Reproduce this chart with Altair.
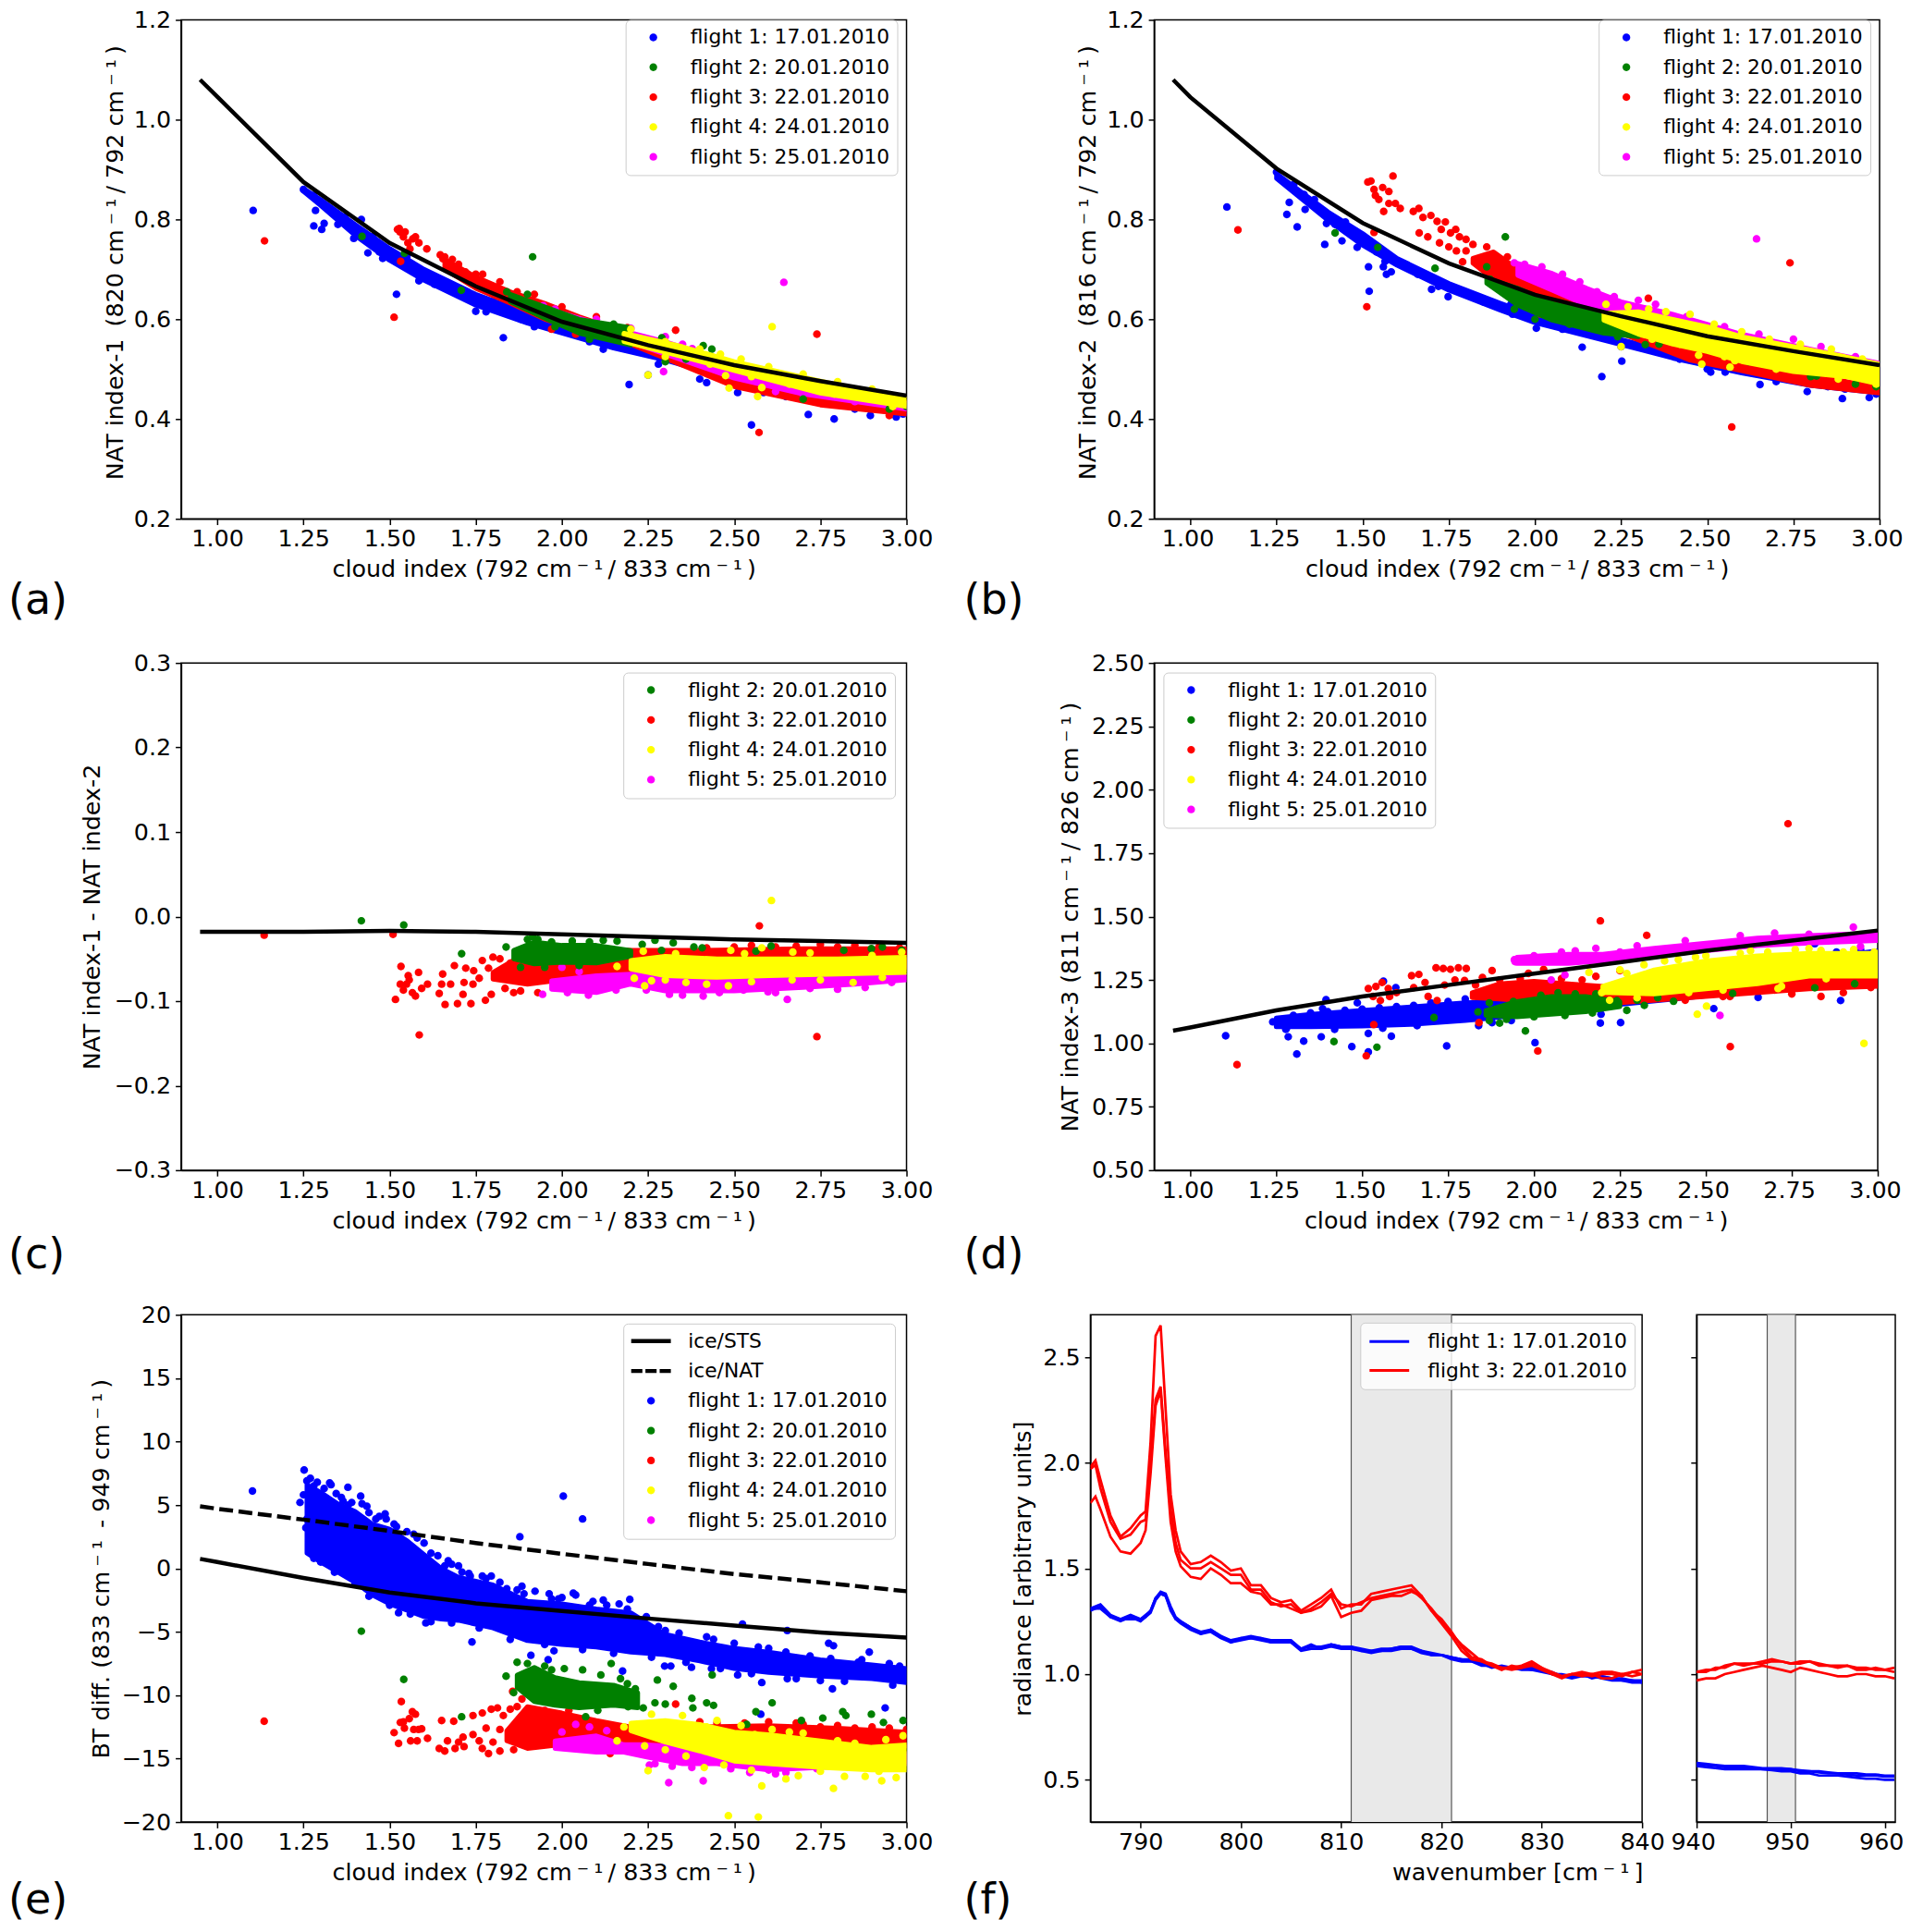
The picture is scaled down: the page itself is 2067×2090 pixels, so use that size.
import altair as alt
import pandas as pd

F = {1: "flight 1: 17.01.2010", 2: "flight 2: 20.01.2010", 3: "flight 3: 22.01.2010",
     4: "flight 4: 24.01.2010", 5: "flight 5: 25.01.2010"}
COL = {1: "#0000ff", 2: "#008000", 3: "#ff0000", 4: "#ffff00", 5: "#ff00ff"}
ORDER = [1, 3, 5, 2, 4]
XT = [1.0, 1.25, 1.5, 1.75, 2.0, 2.25, 2.5, 2.75, 3.0]
TS = "\u2009"
cm = f"cm{TS}\u207b{TS}\u00b9{TS}"
CLOUD_TITLE = f"cloud index (792 {cm}/ 833 {cm})"

# model curves
LX = [0.95, 1.0, 1.25, 1.5, 1.75, 2.0, 2.25, 2.5, 2.75, 3.0]
LA = [1.08, 1.046, 0.875, 0.753, 0.666, 0.595, 0.548, 0.508, 0.476, 0.447]
LB = [1.08, 1.045, 0.902, 0.793, 0.712, 0.649, 0.606, 0.566, 0.536, 0.508]
LC = [-0.018, -0.018, -0.018, -0.017, -0.018, -0.021, -0.024, -0.027, -0.029, -0.031]
LD = [1.05, 1.063, 1.13, 1.185, 1.23, 1.275, 1.32, 1.365, 1.405, 1.445]
LE = [0.75, 0.5, -0.75, -1.9, -2.75, -3.35, -3.95, -4.5, -5.05, -5.45]
LEN = [4.9, 4.7, 3.85, 2.95, 2.0, 1.15, 0.35, -0.45, -1.1, -1.8]

# --- panel a: dense cores (x, low, high) and individual points (x, y)
A1BX = [1.25, 1.3, 1.4, 1.5, 1.6, 1.75, 1.9, 2.0, 2.15, 2.3, 2.5, 2.75, 3.0]
A1BH = [0.862, 0.84, 0.79, 0.742, 0.70, 0.65, 0.612, 0.592, 0.558, 0.532, 0.495, 0.445, 0.422]
A1BL = [0.856, 0.828, 0.768, 0.718, 0.678, 0.628, 0.592, 0.572, 0.542, 0.518, 0.478, 0.437, 0.41]
A1X = [1.104, 1.28, 1.303, 1.31, 1.285, 1.418, 1.396, 1.437, 1.48, 1.585, 1.52, 1.75, 1.83, 2.195, 2.25, 2.42, 2.51, 2.585, 2.55, 2.715, 2.79, 2.895, 2.97, 1.25, 1.28, 1.33, 1.37, 1.45, 1.55, 1.65, 1.72, 1.8, 1.88, 1.97, 2.08, 2.2, 2.35, 2.45, 2.6, 2.68, 2.83, 2.93, 1.35, 1.47, 1.63, 1.78, 1.92, 2.12, 2.28, 2.4, 2.56, 2.65, 2.85, 2.99]
A1Y = [0.818, 0.787, 0.78, 0.792, 0.818, 0.80, 0.762, 0.733, 0.722, 0.677, 0.65, 0.616, 0.563, 0.469, 0.488, 0.473, 0.453, 0.453, 0.388, 0.409, 0.40, 0.407, 0.404, 0.86, 0.848, 0.82, 0.805, 0.765, 0.725, 0.675, 0.655, 0.635, 0.60, 0.585, 0.555, 0.545, 0.52, 0.49, 0.475, 0.455, 0.435, 0.42, 0.79, 0.735, 0.67, 0.615, 0.585, 0.54, 0.51, 0.48, 0.46, 0.445, 0.42, 0.41]
A2BX = [1.85, 1.95, 2.05, 2.2]
A2BH = [0.65, 0.625, 0.60, 0.583]
A2BL = [0.635, 0.602, 0.572, 0.548]
A2X = [1.42, 1.543, 1.708, 1.915, 2.29, 2.41, 2.435, 1.84, 1.9, 1.98, 2.08, 2.15, 2.3, 2.36, 2.7, 2.95, 3.0]
A2Y = [0.766, 0.732, 0.658, 0.725, 0.563, 0.547, 0.54, 0.655, 0.65, 0.585, 0.56, 0.59, 0.515, 0.52, 0.44, 0.42, 0.425]
A3BX = [1.66, 1.75, 1.85, 1.95, 2.05, 2.2, 2.5, 2.75, 3.0]
A3BH = [0.72, 0.685, 0.655, 0.632, 0.605, 0.57, 0.48, 0.44, 0.422]
A3BL = [0.70, 0.662, 0.632, 0.60, 0.578, 0.55, 0.465, 0.428, 0.41]
A3X = [1.137, 1.513, 1.532, 2.33, 2.74, 2.572, 2.95, 2.19, 1.523, 1.528, 1.54, 1.553, 1.567, 1.585, 1.559, 1.608, 1.647, 1.655, 1.682, 1.72, 1.77, 1.82, 1.87, 1.92, 2.0, 2.1, 1.53, 1.545, 1.575, 1.66, 1.7, 1.75, 1.8, 1.9, 1.97, 2.04, 2.78, 2.88]
A3Y = [0.757, 0.604, 0.716, 0.578, 0.57, 0.373, 0.407, 0.583, 0.78, 0.782, 0.765, 0.753, 0.761, 0.753, 0.741, 0.741, 0.729, 0.721, 0.72, 0.695, 0.69, 0.675, 0.655, 0.65, 0.625, 0.605, 0.775, 0.775, 0.765, 0.725, 0.71, 0.69, 0.665, 0.63, 0.58, 0.57, 0.44, 0.425]
A4BX = [2.18, 2.35, 2.5, 2.75, 3.0]
A4BH = [0.572, 0.545, 0.515, 0.476, 0.44]
A4BL = [0.555, 0.525, 0.497, 0.452, 0.425]
A4X = [2.25, 2.475, 2.485, 2.58, 2.568, 2.61, 2.2, 2.3, 2.4, 2.46, 2.52, 2.6, 2.7, 2.8, 2.9, 2.3, 2.43, 2.55, 2.66, 2.79, 2.96]
A4Y = [0.488, 0.487, 0.462, 0.463, 0.445, 0.585, 0.58, 0.555, 0.54, 0.53, 0.52, 0.505, 0.49, 0.475, 0.46, 0.525, 0.51, 0.485, 0.47, 0.45, 0.425]
A5BX = [1.95, 2.05, 2.15, 2.3, 2.5, 2.7, 3.0]
A5BH = [0.622, 0.602, 0.582, 0.555, 0.51, 0.47, 0.432]
A5BL = [0.605, 0.585, 0.565, 0.53, 0.482, 0.45, 0.42]
A5X = [2.644, 2.295, 1.946, 2.378, 2.2, 2.3, 2.35, 1.98, 2.1, 2.62, 2.7, 2.85]
A5Y = [0.674, 0.495, 0.627, 0.541, 0.582, 0.565, 0.55, 0.62, 0.60, 0.455, 0.45, 0.435]

# --- panel b
B1BX = [1.25, 1.4, 1.5, 1.6, 1.75, 1.9, 2.0, 2.2, 2.4, 2.6, 2.8, 3.0]
B1BH = [0.892, 0.815, 0.772, 0.722, 0.672, 0.632, 0.607, 0.568, 0.533, 0.503, 0.483, 0.463]
B1BL = [0.882, 0.798, 0.748, 0.708, 0.658, 0.618, 0.593, 0.558, 0.522, 0.492, 0.467, 0.452]
B1X = [1.106, 1.28, 1.287, 1.31, 1.333, 1.39, 1.44, 1.484, 1.395, 1.517, 1.519, 1.565, 1.569, 1.583, 1.72, 1.748, 1.935, 2.004, 2.137, 2.194, 2.252, 2.42, 2.51, 2.552, 2.653, 2.79, 2.892, 2.97, 1.25, 1.3, 1.36, 1.45, 1.54, 1.66, 1.8, 1.93, 2.08, 2.3, 2.5, 2.7, 2.9, 2.99, 1.33, 1.42, 1.56, 1.7, 1.85, 2.02, 2.25, 2.45, 2.65, 2.85]
B1Y = [0.825, 0.81, 0.834, 0.785, 0.82, 0.75, 0.757, 0.744, 0.792, 0.705, 0.656, 0.716, 0.69, 0.695, 0.666, 0.645, 0.61, 0.582, 0.544, 0.485, 0.516, 0.52, 0.494, 0.494, 0.469, 0.455, 0.441, 0.443, 0.895, 0.87, 0.84, 0.795, 0.735, 0.69, 0.65, 0.63, 0.58, 0.56, 0.50, 0.475, 0.46, 0.45, 0.85, 0.79, 0.705, 0.66, 0.635, 0.595, 0.545, 0.53, 0.49, 0.465]
B2BX = [1.86, 1.95, 2.05, 2.2, 2.3]
B2BH = [0.682, 0.662, 0.632, 0.608, 0.585]
B2BL = [0.672, 0.628, 0.598, 0.572, 0.565]
B2X = [1.42, 1.544, 1.71, 1.914, 2.32, 2.817, 2.93, 1.86, 1.87, 1.94, 2.0, 2.1, 2.18, 2.24, 2.36, 2.5, 2.62, 2.72, 2.8, 2.99]
B2Y = [0.773, 0.744, 0.702, 0.765, 0.549, 0.486, 0.47, 0.705, 0.68, 0.62, 0.60, 0.59, 0.61, 0.565, 0.55, 0.54, 0.515, 0.505, 0.485, 0.465]
B3BX = [1.82, 1.88, 1.95, 2.05, 2.2, 2.35, 2.45, 2.6, 2.8, 3.0]
B3BH = [0.722, 0.735, 0.70, 0.668, 0.60, 0.565, 0.543, 0.513, 0.488, 0.463]
B3BL = [0.712, 0.68, 0.652, 0.622, 0.585, 0.545, 0.518, 0.497, 0.467, 0.452]
B3X = [1.138, 1.512, 1.533, 1.515, 1.524, 1.588, 1.558, 1.576, 1.533, 1.537, 1.547, 1.561, 1.576, 1.595, 1.609, 1.647, 1.663, 1.675, 1.698, 1.664, 1.689, 1.716, 1.723, 1.75, 1.728, 1.755, 1.781, 1.772, 1.8, 2.329, 2.74, 2.571, 2.017, 1.74, 1.77, 1.8, 1.82, 1.79, 1.86, 1.92, 1.99, 2.06]
B3Y = [0.779, 0.625, 0.774, 0.875, 0.877, 0.887, 0.864, 0.856, 0.86, 0.848, 0.84, 0.816, 0.832, 0.832, 0.822, 0.816, 0.822, 0.804, 0.808, 0.773, 0.765, 0.796, 0.753, 0.745, 0.78, 0.773, 0.765, 0.737, 0.737, 0.642, 0.713, 0.384, 0.61, 0.795, 0.78, 0.76, 0.75, 0.715, 0.745, 0.725, 0.69, 0.675]
B4BX = [2.2, 2.3, 2.4, 2.5, 2.6, 2.75, 2.9, 3.0]
B4BH = [0.612, 0.615, 0.60, 0.585, 0.565, 0.545, 0.525, 0.51]
B4BL = [0.598, 0.57, 0.55, 0.535, 0.515, 0.495, 0.485, 0.47]
B4X = [2.25, 2.484, 2.475, 2.566, 2.58, 2.206, 2.27, 2.33, 2.38, 2.45, 2.52, 2.6, 2.68, 2.77, 2.86, 2.95, 2.34, 2.42, 2.55, 2.7, 2.88, 2.99]
B4Y = [0.545, 0.51, 0.528, 0.504, 0.517, 0.63, 0.625, 0.62, 0.615, 0.61, 0.59, 0.575, 0.56, 0.55, 0.54, 0.52, 0.56, 0.55, 0.525, 0.50, 0.48, 0.47]
B5BX = [1.95, 2.05, 2.15, 2.25, 2.4, 2.6, 2.8, 3.0]
B5BH = [0.712, 0.692, 0.662, 0.635, 0.61, 0.57, 0.54, 0.512]
B5BL = [0.688, 0.658, 0.628, 0.60, 0.57, 0.535, 0.505, 0.475]
B5X = [2.643, 1.94, 1.97, 2.02, 2.08, 2.13, 2.18, 2.23, 2.3, 2.35, 2.44, 2.55, 2.65, 2.75, 2.83, 2.93]
B5Y = [0.761, 0.713, 0.71, 0.705, 0.69, 0.675, 0.655, 0.645, 0.638, 0.63, 0.605, 0.585, 0.57, 0.56, 0.545, 0.525]

# --- panel c
C2BX = [1.86, 1.92, 2.0, 2.1, 2.2]
C2BH = [-0.04, -0.03, -0.034, -0.034, -0.04]
C2BL = [-0.05, -0.056, -0.054, -0.055, -0.047]
C2X = [1.418, 1.541, 1.709, 1.838, 2.27, 2.323, 2.383, 2.407, 2.233, 2.289, 2.607, 2.563, 2.818, 2.898, 2.93, 2.986, 1.9, 1.915, 1.93, 1.97, 2.03, 2.08, 2.12, 2.16, 1.88, 1.95, 2.05]
C2Y = [-0.005, -0.01, -0.044, -0.036, -0.028, -0.031, -0.036, -0.037, -0.033, -0.04, -0.035, -0.041, -0.04, -0.038, -0.036, -0.04, -0.027, -0.024, -0.027, -0.03, -0.029, -0.03, -0.028, -0.029, -0.06, -0.06, -0.058]
C3BX = [1.8, 1.9, 2.0, 2.2, 2.4, 2.7, 3.0]
C3BH = [-0.066, -0.042, -0.036, -0.04, -0.04, -0.038, -0.038]
C3BL = [-0.074, -0.08, -0.075, -0.065, -0.065, -0.06, -0.06]
C3X = [1.136, 1.51, 1.533, 1.586, 2.74, 2.573, 1.517, 1.54, 1.557, 1.566, 1.575, 1.584, 1.593, 1.61, 1.531, 1.549, 1.554, 1.644, 1.654, 1.651, 1.661, 1.677, 1.688, 1.697, 1.713, 1.721, 1.736, 1.744, 1.716, 1.742, 1.769, 1.778, 1.8, 1.795, 1.76, 1.787, 1.835, 1.86, 1.88, 1.93, 2.42, 2.5, 2.55, 2.62, 2.68, 2.75, 2.8, 2.85, 2.92, 2.98, 1.82, 1.85, 1.9, 1.98, 2.06, 2.12]
C3Y = [-0.022, -0.021, -0.059, -0.14, -0.142, -0.011, -0.098, -0.087, -0.075, -0.09, -0.094, -0.066, -0.085, -0.08, -0.08, -0.08, -0.07, -0.091, -0.068, -0.08, -0.104, -0.08, -0.058, -0.103, -0.092, -0.061, -0.103, -0.064, -0.078, -0.08, -0.052, -0.099, -0.048, -0.092, -0.073, -0.061, -0.085, -0.09, -0.088, -0.09, -0.037, -0.036, -0.034, -0.036, -0.035, -0.033, -0.036, -0.034, -0.036, -0.037, -0.05, -0.055, -0.052, -0.08, -0.078, -0.072]
C4BX = [2.2, 2.3, 2.45, 2.6, 2.8, 3.0]
C4BH = [-0.052, -0.047, -0.05, -0.05, -0.05, -0.048]
C4BL = [-0.062, -0.07, -0.072, -0.07, -0.068, -0.066]
C4X = [2.608, 2.16, 2.24, 2.21, 2.26, 2.845, 2.42, 2.483, 2.668, 2.236, 2.49, 2.58, 2.67, 2.986, 2.3, 2.36, 2.55, 2.75, 2.93, 2.33, 2.53, 2.72, 2.9]
C4Y = [0.019, -0.059, -0.082, -0.073, -0.076, -0.078, -0.08, -0.082, -0.075, -0.041, -0.04, -0.037, -0.042, -0.042, -0.075, -0.078, -0.077, -0.075, -0.072, -0.044, -0.044, -0.043, -0.046]
C5BX = [1.97, 2.1, 2.2, 2.3, 2.5, 2.7, 2.85, 3.0]
C5BH = [-0.076, -0.07, -0.068, -0.066, -0.07, -0.07, -0.07, -0.07]
C5BL = [-0.086, -0.09, -0.08, -0.088, -0.088, -0.084, -0.08, -0.075]
C5X = [1.944, 2.312, 2.41, 2.457, 2.654, 2.8, 2.88, 2.957, 2.016, 2.077, 2.157, 2.245, 2.527, 2.598, 2.72, 2.0, 2.05, 2.35, 2.62]
C5Y = [-0.092, -0.092, -0.094, -0.09, -0.098, -0.086, -0.084, -0.078, -0.09, -0.093, -0.087, -0.087, -0.087, -0.089, -0.085, -0.06, -0.065, -0.093, -0.09]

# --- panel d
D1BX = [1.25, 1.35, 1.5, 1.65, 1.8, 1.88, 2.0, 2.3, 2.6, 2.8, 3.0]
D1BH = [1.10, 1.115, 1.13, 1.145, 1.16, 1.165, 1.17, 1.20, 1.26, 1.33, 1.365]
D1BL = [1.065, 1.065, 1.068, 1.075, 1.09, 1.10, 1.12, 1.16, 1.20, 1.25, 1.27]
D1X = [1.103, 1.285, 1.278, 1.33, 1.31, 1.381, 1.47, 1.518, 1.518, 1.585, 1.746, 1.562, 1.598, 1.486, 1.395, 1.385, 1.839, 1.878, 1.934, 2.003, 2.193, 2.195, 2.252, 2.523, 2.652, 2.892, 2.817, 1.24, 1.3, 1.4, 1.45, 1.55, 1.6, 1.7, 1.75, 1.28, 1.42, 1.56, 1.66, 2.95, 2.88, 1.35, 1.5, 1.65, 1.8, 1.85]
D1Y = [1.03, 1.026, 1.055, 1.009, 0.958, 1.026, 0.987, 1.039, 0.966, 1.028, 0.99, 1.245, 1.22, 1.16, 1.172, 1.137, 1.07, 1.082, 1.09, 1.003, 1.08, 1.115, 1.082, 1.137, 1.181, 1.169, 1.393, 1.085, 1.11, 1.125, 1.13, 1.14, 1.145, 1.16, 1.165, 1.06, 1.055, 1.06, 1.07, 1.37, 1.36, 1.12, 1.135, 1.15, 1.175, 1.18]
D2BX = [1.86, 1.95, 2.05, 2.15, 2.25]
D2BH = [1.13, 1.165, 1.185, 1.185, 1.165]
D2BL = [1.11, 1.105, 1.115, 1.125, 1.145]
D2X = [1.418, 1.543, 1.709, 1.837, 1.975, 2.321, 2.406, 2.817, 2.933, 2.241, 2.578, 1.87, 1.9, 1.94, 2.02, 2.07, 2.12, 2.18, 2.3, 2.36, 1.87, 1.92, 2.0, 2.09, 2.17, 2.27]
D2Y = [1.007, 0.985, 1.102, 1.124, 1.049, 1.15, 1.166, 1.219, 1.235, 1.169, 1.197, 1.16, 1.08, 1.165, 1.19, 1.2, 1.195, 1.195, 1.17, 1.18, 1.09, 1.095, 1.105, 1.11, 1.12, 1.13]
D3BX = [1.82, 1.9, 2.0, 2.1, 2.2, 2.4, 2.6, 2.8, 3.0]
D3BH = [1.20, 1.235, 1.245, 1.235, 1.225, 1.245, 1.255, 1.265, 1.275]
D3BL = [1.18, 1.175, 1.165, 1.165, 1.155, 1.175, 1.195, 1.215, 1.225]
D3X = [1.136, 1.512, 1.534, 2.011, 2.193, 2.328, 2.571, 2.739, 1.518, 1.54, 1.558, 1.576, 1.532, 1.553, 1.58, 1.644, 1.665, 1.683, 1.692, 1.715, 1.736, 1.757, 1.78, 1.803, 1.718, 1.798, 1.878, 1.984, 2.028, 2.18, 2.25, 2.445, 1.84, 2.835, 2.57, 1.6, 1.65, 1.74, 1.77, 1.85, 2.7, 2.9, 2.98, 2.44, 2.55, 2.75, 1.83, 1.9, 1.96, 2.08, 2.14]
D3Y = [0.916, 0.951, 1.074, 0.97, 1.483, 1.426, 0.987, 1.866, 1.216, 1.224, 1.24, 1.216, 1.185, 1.169, 1.185, 1.267, 1.272, 1.24, 1.185, 1.298, 1.295, 1.292, 1.298, 1.295, 1.169, 1.248, 1.287, 1.276, 1.292, 1.264, 1.287, 1.28, 1.082, 1.185, 1.185, 1.2, 1.22, 1.23, 1.25, 1.26, 1.21, 1.2, 1.22, 1.17, 1.185, 1.195, 1.23, 1.25, 1.255, 1.255, 1.25]
D4BX = [2.2, 2.35, 2.5, 2.65, 2.8, 3.0]
D4BH = [1.225, 1.29, 1.325, 1.345, 1.355, 1.355]
D4BL = [1.20, 1.195, 1.215, 1.235, 1.265, 1.265]
D4X = [2.475, 2.502, 2.96, 2.197, 2.71, 2.16, 2.8, 2.835, 2.25, 2.32, 2.42, 2.5, 2.6, 2.68, 2.9, 2.99, 2.3, 2.45, 2.55, 2.72, 2.85, 2.22, 2.27, 2.38, 2.47, 2.63, 2.76, 2.93]
D4Y = [1.115, 1.147, 1.0, 1.2, 1.216, 1.28, 1.374, 1.366, 1.29, 1.31, 1.33, 1.345, 1.355, 1.36, 1.36, 1.36, 1.18, 1.2, 1.21, 1.225, 1.255, 1.17, 1.275, 1.325, 1.34, 1.365, 1.37, 1.37]
D5BX = [1.95, 2.1, 2.2, 2.35, 2.5, 2.65, 2.8, 3.0]
D5BH = [1.34, 1.352, 1.352, 1.375, 1.395, 1.415, 1.425, 1.435]
D5BL = [1.315, 1.315, 1.325, 1.345, 1.365, 1.385, 1.395, 1.405]
D5X = [2.541, 1.943, 1.945, 2.929, 2.973, 2.95, 2.0, 2.08, 2.12, 2.18, 2.3, 2.44, 2.6, 2.7, 2.8, 2.86, 2.05, 2.09, 2.25]
D5Y = [1.11, 1.33, 1.322, 1.458, 1.422, 1.382, 1.345, 1.36, 1.365, 1.375, 1.385, 1.405, 1.425, 1.435, 1.43, 1.42, 1.25, 1.27, 1.36]

# --- panel e
E1BX = [1.26, 1.3, 1.35, 1.4, 1.45, 1.5, 1.55, 1.6, 1.65, 1.7, 1.8, 1.9, 2.0, 2.1, 2.2, 2.3, 2.4, 2.5, 2.6, 2.75, 2.9, 3.0]
E1BH = [6.6, 6.0, 5.1, 4.5, 3.5, 3.1, 2.2, 1.1, 0.0, -0.7, -1.3, -2.6, -2.8, -3.2, -3.5, -5.2, -5.8, -6.3, -6.6, -7.2, -7.6, -7.9]
E1BL = [1.2, 0.5, -0.3, -1.1, -2.1, -2.8, -3.3, -3.8, -4.0, -4.1, -4.7, -5.7, -6.0, -6.2, -6.6, -6.8, -7.3, -7.9, -8.2, -8.5, -8.7, -9.0]
E1X = [1.102, 2.004, 2.06, 1.878, 1.379, 1.326, 1.252, 1.24, 1.257, 1.28, 1.526, 1.605, 1.739, 1.91, 1.96, 1.977, 2.176, 2.197, 2.245, 2.298, 2.316, 2.376, 2.434, 2.524, 2.51, 2.58, 2.577, 2.654, 2.654, 2.75, 2.785, 2.774, 2.788, 2.892, 2.938, 1.68, 1.734, 1.769, 1.795, 1.884, 1.922, 1.963, 2.033, 2.12, 2.166, 1.487, 1.513, 1.416, 1.434, 1.27, 1.29, 1.31, 1.345, 1.365, 1.39, 1.46, 1.55, 1.58, 1.62, 1.66, 1.71, 1.27, 1.3, 1.34, 1.4, 1.44, 1.5, 1.56, 1.62, 1.68, 1.76, 1.85, 1.95, 2.06, 2.15, 2.26, 2.36, 2.46, 2.55, 2.68, 2.82, 2.96, 2.3, 2.44, 2.6, 2.72, 2.86, 2.98, 2.08, 1.99, 1.84, 1.26, 1.28, 1.25, 1.27, 1.26, 1.33, 1.36, 1.38, 1.42, 1.44, 1.47, 1.49, 1.52, 1.57, 1.6, 1.64, 1.67, 1.7, 1.73, 1.78, 1.82, 1.87, 1.89, 1.97, 2.0, 2.04, 2.09, 2.13, 2.19, 2.24, 2.28, 2.34, 2.42, 2.5, 2.57, 2.65, 2.78, 2.87, 2.95]
E1Y = [6.1, 5.7, 3.9, 2.5, 6.4, 6.75, 7.76, 5.2, 3.2, 0.8, -3.5, -4.3, -5.8, -6.85, -7.2, -6.5, -8.1, -2.45, -3.8, -7.7, -7.7, -7.8, -7.9, -4.4, -8.4, -9.0, -11.5, -4.9, -8.7, -8.85, -9.5, -5.9, -6.1, -6.6, -11.0, 0.33, -0.6, -0.6, -0.6, -1.4, -1.8, -2.0, -1.95, -2.5, -2.8, 4.3, 3.5, 5.7, 4.9, 7.1, 6.8, 6.3, 5.9, 5.3, 5.2, 3.9, 2.9, 2.4, 1.2, 0.2, -0.3, 2.0, 0.5, -0.3, -1.2, -2.2, -2.9, -3.6, -4.2, -4.3, -4.7, -5.6, -6.0, -6.4, -6.7, -7.0, -7.4, -7.9, -8.3, -8.7, -8.9, -9.2, -4.9, -5.6, -6.3, -6.9, -7.4, -7.7, -2.9, -2.4, -1.6, 6.9, 6.5, 5.8, 4.6, 3.9, 6.6, 5.6, 5.0, 5.1, 4.4, 4.1, 3.9, 3.3, 2.7, 2.0, 1.0, 0.6, 0.2, -0.4, -0.8, -1.1, -1.7, -2.0, -2.4, -2.3, -2.1, -2.6, -2.9, -3.2, -4.4, -4.6, -5.1, -5.4, -5.9, -6.2, -6.6, -7.1, -7.2, -7.5]
E2BX = [1.87, 1.92, 1.98, 2.05, 2.15, 2.22]
E2BH = [-8.4, -7.8, -8.6, -9.0, -9.2, -9.8]
E2BL = [-9.4, -10.5, -10.8, -11.0, -10.8, -11.0]
E2X = [1.418, 1.541, 1.709, 1.838, 2.143, 2.436, 2.323, 2.277, 2.377, 2.42, 2.44, 2.38, 2.61, 2.563, 2.695, 2.757, 2.815, 2.824, 2.898, 2.933, 2.99, 2.536, 2.213, 2.27, 2.069, 2.104, 2.192, 2.236, 2.007, 2.06, 2.113, 2.17, 1.87, 1.9, 1.95, 1.97, 2.3, 2.19, 1.86]
E2Y = [-4.95, -8.75, -11.7, -8.5, -7.5, -8.4, -9.3, -8.8, -10.25, -10.6, -10.8, -11.0, -10.6, -11.3, -12.0, -11.8, -11.3, -11.6, -11.5, -12.15, -12.0, -12.3, -9.5, -10.6, -11.7, -11.2, -10.9, -11.0, -7.9, -8.0, -8.4, -8.7, -7.4, -7.5, -7.7, -8.0, -10.7, -9.1, -9.8]
E3BX = [1.84, 1.9, 2.0, 2.1, 2.2, 2.4, 2.6, 2.8, 3.0]
E3BH = [-12.8, -10.9, -11.4, -12.0, -12.5, -12.5, -12.4, -12.6, -12.9]
E3BL = [-13.6, -14.2, -13.9, -14.1, -14.2, -14.4, -14.4, -14.0, -14.0]
E3X = [1.136, 1.534, 1.513, 1.526, 1.531, 1.543, 1.557, 1.566, 1.584, 1.593, 1.561, 1.58, 1.61, 1.575, 1.644, 1.66, 1.651, 1.686, 1.668, 1.69, 1.713, 1.742, 1.769, 1.795, 1.716, 1.742, 1.769, 1.787, 1.76, 1.813, 1.857, 1.884, 1.928, 2.33, 2.53, 2.68, 2.75, 2.85, 2.95, 1.95, 2.02, 2.14, 1.54, 1.57, 1.7, 1.78, 1.82, 2.4, 2.45, 2.6, 2.7, 2.8, 2.9, 3.0, 1.83, 1.85, 1.87, 1.86, 1.82, 1.8]
E3Y = [-12.05, -10.5, -12.95, -13.8, -12.15, -12.6, -11.85, -11.3, -12.7, -12.65, -13.6, -13.6, -13.4, -11.5, -14.2, -14.4, -12.0, -12.05, -13.6, -14.2, -13.3, -11.6, -11.4, -11.1, -14.05, -13.1, -14.2, -14.6, -13.6, -11.0, -9.7, -10.3, -10.25, -10.7, -12.2, -12.2, -12.5, -12.6, -12.6, -11.2, -11.2, -14.6, -12.1, -12.7, -13.7, -12.6, -14.4, -12.1, -12.2, -12.1, -12.3, -12.4, -12.5, -12.7, -11.6, -11.1, -10.9, -14.3, -12.7, -13.7]
E4BX = [2.2, 2.3, 2.4, 2.5, 2.6, 2.75, 2.9, 3.0]
E4BH = [-12.2, -12.0, -12.3, -12.9, -13.1, -13.6, -14.1, -13.9]
E4BL = [-12.8, -13.7, -14.4, -15.2, -15.4, -15.7, -15.9, -15.9]
E4X = [2.483, 2.57, 2.58, 2.788, 2.25, 2.413, 2.65, 2.686, 2.82, 2.88, 2.928, 2.97, 2.26, 2.35, 2.45, 2.52, 2.61, 2.7, 2.85, 2.99, 2.18, 2.16, 2.24, 2.3, 2.36, 2.47, 2.55, 2.75, 2.92, 2.42, 2.56, 2.66, 2.8, 2.94]
E4Y = [-19.5, -19.6, -17.15, -17.35, -15.95, -15.7, -16.6, -16.35, -16.4, -16.4, -16.75, -16.5, -11.5, -11.6, -12.0, -12.4, -12.7, -13.0, -13.8, -13.2, -12.5, -13.6, -14.0, -14.3, -14.8, -15.5, -15.9, -16.0, -16.0, -12.5, -13.1, -12.9, -13.6, -13.5]
E5BX = [1.98, 2.1, 2.18, 2.25, 2.35, 2.45, 2.6, 2.75, 3.0]
E5BH = [-13.6, -13.2, -13.9, -13.9, -14.1, -14.1, -14.3, -14.3, -14.6]
E5BL = [-14.2, -14.5, -14.5, -14.9, -15.4, -15.4, -15.9, -15.7, -15.4]
E5X = [2.31, 2.41, 2.254, 2.27, 2.32, 2.377, 2.49, 2.545, 2.65, 2.74, 2.04, 2.08, 2.0, 2.13, 2.62, 2.6]
E5Y = [-16.9, -16.75, -15.5, -15.4, -15.6, -15.7, -15.8, -16.1, -16.1, -15.8, -12.3, -12.5, -12.9, -12.8, -16.2, -15.9]

# --- panel f: spectra
WN1 = [785, 785.5, 786, 787, 788, 789, 790, 790.5, 791, 791.5, 792, 792.5, 793, 793.5, 794, 795, 796, 797, 798, 799, 800, 801, 802, 803, 804, 805, 806, 807, 808, 809, 810, 811, 812, 813, 814, 815, 816, 817, 818, 819, 820, 821, 822, 823, 824, 825, 826, 827, 828, 829, 830, 831, 832, 833, 834, 835, 836, 837, 838, 839, 840]
R1A = [1.98, 2.01, 1.92, 1.75, 1.65, 1.69, 1.75, 1.77, 2.10, 2.60, 2.65, 2.25, 1.85, 1.68, 1.58, 1.52, 1.53, 1.56, 1.53, 1.49, 1.50, 1.42, 1.42, 1.36, 1.34, 1.35, 1.30, 1.33, 1.36, 1.40, 1.31, 1.33, 1.33, 1.38, 1.39, 1.40, 1.41, 1.42, 1.37, 1.30, 1.26, 1.20, 1.13, 1.08, 1.07, 1.04, 1.03, 1.03, 1.04, 1.06, 1.03, 1.01, 0.99, 1.00, 1.01, 1.00, 1.01, 1.01, 1.00, 1.01, 1.02]
R1B = [1.97, 1.99, 1.88, 1.72, 1.64, 1.66, 1.72, 1.73, 2.0, 2.3, 2.36, 2.05, 1.78, 1.62, 1.54, 1.50, 1.50, 1.53, 1.50, 1.47, 1.47, 1.40, 1.40, 1.34, 1.32, 1.33, 1.29, 1.31, 1.34, 1.38, 1.33, 1.32, 1.34, 1.36, 1.37, 1.38, 1.39, 1.40, 1.36, 1.31, 1.25, 1.19, 1.14, 1.10, 1.06, 1.05, 1.03, 1.02, 1.03, 1.05, 1.03, 1.00, 0.99, 1.00, 1.00, 0.99, 1.00, 1.00, 0.99, 1.01, 1.00]
R1C = [1.81, 1.84, 1.78, 1.65, 1.58, 1.57, 1.62, 1.68, 1.95, 2.27, 2.34, 2.02, 1.72, 1.58, 1.51, 1.46, 1.45, 1.50, 1.47, 1.43, 1.43, 1.39, 1.38, 1.33, 1.33, 1.31, 1.29, 1.30, 1.32, 1.37, 1.27, 1.29, 1.30, 1.35, 1.36, 1.37, 1.37, 1.39, 1.37, 1.30, 1.24, 1.18, 1.11, 1.07, 1.06, 1.04, 1.02, 1.04, 1.03, 1.04, 1.02, 1.00, 0.98, 1.00, 0.99, 1.00, 0.98, 0.98, 1.00, 0.99, 1.00]
B1A = [1.31, 1.32, 1.33, 1.28, 1.26, 1.28, 1.26, 1.28, 1.30, 1.36, 1.39, 1.38, 1.32, 1.27, 1.25, 1.22, 1.20, 1.21, 1.18, 1.16, 1.17, 1.18, 1.17, 1.16, 1.16, 1.16, 1.12, 1.13, 1.13, 1.14, 1.13, 1.13, 1.12, 1.11, 1.12, 1.12, 1.13, 1.13, 1.11, 1.10, 1.09, 1.08, 1.07, 1.07, 1.05, 1.04, 1.03, 1.03, 1.03, 1.03, 1.02, 1.00, 1.00, 0.99, 1.00, 0.99, 0.99, 0.98, 0.97, 0.97, 0.97]
B1B = [1.30, 1.31, 1.31, 1.27, 1.25, 1.27, 1.25, 1.27, 1.29, 1.35, 1.38, 1.37, 1.30, 1.26, 1.24, 1.21, 1.19, 1.20, 1.17, 1.15, 1.16, 1.17, 1.16, 1.15, 1.15, 1.15, 1.11, 1.12, 1.12, 1.13, 1.12, 1.12, 1.11, 1.10, 1.11, 1.11, 1.12, 1.12, 1.10, 1.09, 1.09, 1.07, 1.06, 1.06, 1.04, 1.04, 1.03, 1.03, 1.02, 1.02, 1.01, 1.00, 0.99, 0.98, 0.99, 0.99, 0.98, 0.97, 0.97, 0.96, 0.96]
B1C = [1.31, 1.31, 1.32, 1.27, 1.26, 1.26, 1.26, 1.27, 1.30, 1.36, 1.38, 1.37, 1.31, 1.26, 1.25, 1.22, 1.19, 1.21, 1.18, 1.15, 1.17, 1.17, 1.17, 1.15, 1.16, 1.15, 1.12, 1.14, 1.12, 1.14, 1.13, 1.13, 1.11, 1.11, 1.11, 1.12, 1.13, 1.12, 1.11, 1.09, 1.09, 1.08, 1.07, 1.06, 1.05, 1.03, 1.04, 1.03, 1.03, 1.02, 1.02, 1.01, 0.99, 0.99, 1.00, 0.98, 0.99, 0.98, 0.98, 0.97, 0.96]
WN2 = [940, 941, 942, 943, 944, 945, 946, 947, 948, 949, 950, 951, 952, 953, 954, 955, 956, 957, 958, 959, 960, 961]
R2A = [1.01, 1.02, 1.02, 1.04, 1.05, 1.05, 1.05, 1.06, 1.07, 1.06, 1.05, 1.06, 1.06, 1.05, 1.04, 1.04, 1.04, 1.03, 1.03, 1.02, 1.02, 1.03]
R2B = [1.01, 1.01, 1.03, 1.03, 1.05, 1.04, 1.05, 1.05, 1.06, 1.06, 1.05, 1.05, 1.06, 1.04, 1.04, 1.03, 1.04, 1.02, 1.02, 1.03, 1.02, 1.01]
R2C = [0.97, 0.98, 0.98, 1.0, 1.01, 1.02, 1.03, 1.04, 1.03, 1.02, 1.01, 1.03, 1.02, 1.01, 1.00, 0.99, 0.99, 1.00, 1.0, 0.99, 0.99, 0.98]
B2A = [0.58, 0.575, 0.57, 0.565, 0.565, 0.565, 0.56, 0.555, 0.555, 0.555, 0.55, 0.545, 0.54, 0.54, 0.535, 0.53, 0.53, 0.53, 0.525, 0.525, 0.52, 0.52]
B2B = [0.575, 0.57, 0.565, 0.56, 0.56, 0.56, 0.555, 0.55, 0.55, 0.55, 0.55, 0.54, 0.54, 0.535, 0.53, 0.53, 0.525, 0.52, 0.52, 0.52, 0.515, 0.515]
B2C = [0.565, 0.56, 0.555, 0.55, 0.55, 0.55, 0.55, 0.55, 0.545, 0.54, 0.54, 0.53, 0.53, 0.52, 0.52, 0.52, 0.515, 0.51, 0.505, 0.505, 0.50, 0.50]
SHADE1 = [811, 821]
SHADE2 = [947.5, 950.5]

FONT = "DejaVu Sans"
TICK = 25.4
LEG = 21.8
SYM = 484  # legend cell of 22 px
CIRCLE = "M0.38,0A0.38,0.38 0 1,1 -0.38,0A0.38,0.38 0 1,1 0.38,0Z"
BAR = "M-1.95,-0.2H1.95V0.2H-1.95Z"
DASH = "M-1.95,-0.2H-0.85V0.2H-1.95ZM-0.55,-0.2H0.55V0.2H-0.55ZM0.85,-0.2H1.95V0.2H0.85Z"
LINEP = "M-1.95,0H1.95"


def legend(x, y, symbol=None, stroke=None, row=9.3):
    kw = dict(orient="none", legendX=x, legendY=y, title=None, labelFont=FONT, labelFontSize=LEG,
              labelColor="black", fillColor="rgba(255,255,255,0.8)", strokeColor="#cccccc",
              cornerRadius=5, padding=8, rowPadding=row, symbolSize=SYM, symbolOffset=11,
              labelOffset=29, zindex=2, labelLimit=400, symbolStrokeWidth=stroke if stroke else 0)
    if symbol:
        kw["symbolType"] = symbol
    return alt.Legend(**kw)


def xaxis(values, fmt, title, w, title_x=None, labels=True, off=0):
    return alt.Axis(values=values, format=fmt, title=title, titleX=title_x if title_x is not None else w / 2,
                    titleY=54.5, titleBaseline="middle", titleAlign="center", labelOverlap=False, labelFlush=False,
                    labels=labels, labelOffset=off)


def yaxis(values, fmt, title, tx, h, ty=None, labels=True):
    return alt.Axis(values=values, format=fmt, title=title, titleX=tx, titleY=ty if ty is not None else h / 2,
                    titleAngle=-90, titleBaseline="middle", titleAlign="center", labelOverlap=False, labelFlush=False, labels=labels, labelPadding=5)


def panel(prefix, flights, leg_x, leg_y, ydom, yvals, yfmt, ytitle, title_x, letter, lx, ly, curve, w=785, h=549, ty=None, off=0):
    X = alt.X("x:Q", scale=alt.Scale(domain=[0.895, 3.0], nice=False, zero=False),
              axis=xaxis(XT, ".2f", CLOUD_TITLE, w, off=off))
    Y = alt.Y("y:Q", scale=alt.Scale(domain=ydom, nice=False, zero=False),
              axis=yaxis(yvals, yfmt, ytitle, title_x, h, ty))
    Y2 = alt.Y2("y2:Q")
    dom = [F[k] for k in flights]
    rng = [COL[k] for k in flights]
    extra_dom, extra_rng, shapes = [], [], [CIRCLE] * len(dom)
    if prefix == "E":
        extra_dom = ["ice/STS", "ice/NAT"]
        extra_rng = ["black", "black"]
        shapes = [BAR, DASH] + shapes
    C = alt.Color("flight:N", scale=alt.Scale(domain=extra_dom + dom, range=extra_rng + rng),
                  legend=legend(leg_x, leg_y, None if prefix == "E" else CIRCLE))
    layers = []
    g = globals()
    for k in ORDER:
        if k not in flights:
            continue
        bx, bl, bh = g[f"{prefix}{k}BX"], g[f"{prefix}{k}BL"], g[f"{prefix}{k}BH"]
        px, py = g[f"{prefix}{k}X"], g[f"{prefix}{k}Y"]
        band = pd.DataFrame({"x": bx, "y": bl, "y2": bh})
        layers.append(alt.Chart(band).mark_area(color=COL[k], stroke=COL[k], strokeWidth=5, strokeJoin="round",
                                                clip=True, opacity=1).encode(x=X, y=Y, y2=Y2))
        n = min(len(px), len(py))
        pts = pd.DataFrame({"x": px[:n], "y": py[:n], "flight": F[k]})
        if prefix == "E":
            S = alt.Shape("flight:N", scale=alt.Scale(domain=extra_dom + dom, range=shapes),
                          legend=legend(leg_x, leg_y))
            layers.append(alt.Chart(pts).mark_point(filled=True, size=SYM, opacity=1, clip=True, strokeWidth=0)
                          .encode(x=X, y=Y, color=C, shape=S))
        else:
            layers.append(alt.Chart(pts).mark_point(filled=True, shape=CIRCLE, size=SYM, opacity=1, clip=True, strokeWidth=0)
                          .encode(x=X, y=Y, color=C))
    layers.append(alt.Chart(pd.DataFrame({"x": LX, "y": curve})).mark_line(color="black", strokeWidth=4.5, clip=True)
                  .encode(x=X, y=Y))
    if prefix == "E":
        layers.append(alt.Chart(pd.DataFrame({"x": LX, "y": LEN})).mark_line(color="black", strokeWidth=4.5, strokeDash=[15, 6], clip=True)
                      .encode(x=X, y=Y))
    layers.append(alt.Chart(pd.DataFrame({"t": [letter]})).mark_text(font=FONT, fontSize=46, align="left", baseline="middle", color="black")
                  .encode(text="t:N", x=alt.value(lx), y=alt.value(h + ly)))
    return alt.layer(*layers).properties(width=w, height=h)


def spectra(wn, reds, blues):
    rows = []
    for name, series in [("b", blues), ("r", reds)]:
        for i, s in enumerate(series):
            for a, b in zip(wn, s):
                rows.append({"x": a, "y": b, "line": f"{name}{i}",
                             "flight": F[1] if name == "b" else F[3]})
    return pd.DataFrame(rows)


def fpanel(wn, reds, blues, shade, xdom, xvals, w, first):
    h = 549
    X = alt.X("x:Q", scale=alt.Scale(domain=xdom, nice=False, zero=False),
              axis=xaxis(xvals, "d", f"wavenumber [{cm}]" if first else None, w, 462 if first else None, off=0 if first else -4))
    Y = alt.Y("y:Q", scale=alt.Scale(domain=[0.3, 2.7], nice=False, zero=False),
              axis=yaxis([0.5, 1.0, 1.5, 2.0, 2.5], ".1f", "radiance [arbitrary units]" if first else None, -73, h, labels=first))
    C = alt.Color("flight:N", scale=alt.Scale(domain=[F[1], F[3]], range=[COL[1], COL[3]]),
                  legend=legend(292, 8.5, LINEP, 3, 6.3) if first else None)
    sh = pd.DataFrame({"x": [shade[0]], "x2": [shade[1]]})
    edges = pd.DataFrame({"x": shade})
    L = [alt.Chart(sh).mark_rect(color="#e9e9e9").encode(x=X, x2=alt.X2("x2:Q")),
         alt.Chart(edges).mark_rule(color="#555555", strokeWidth=1.2).encode(x=X),
         alt.Chart(spectra(wn, reds, blues)).mark_line(strokeWidth=2.7, clip=True).encode(x=X, y=Y, color=C, detail="line:N")]
    if first:
        L.append(alt.Chart(pd.DataFrame({"t": ["(f)"]})).mark_text(font=FONT, fontSize=46, align="left", baseline="middle", color="black")
                 .encode(text="t:N", x=alt.value(-137), y=alt.value(h + 85)))
    return alt.layer(*L).properties(width=w, height=h)


H1 = 540
a = panel("A", [1, 2, 3, 4, 5], 481, 0, [0.2, 1.2], [0.2, 0.4, 0.6, 0.8, 1.0, 1.2], ".1f",
          f"NAT index-1 {TS}(820 {cm}/ 792 {cm})", -71, "(a)", -187, 89, LA, h=H1, ty=262.3)
b = panel("B", [1, 2, 3, 4, 5], 481, 0, [0.2, 1.2], [0.2, 0.4, 0.6, 0.8, 1.0, 1.2], ".1f",
          f"NAT index-2 {TS}(816 {cm}/ 792 {cm})", -72, "(b)", -206, 89, LB, h=H1, ty=262.3, off=-3)
c = panel("C", [2, 3, 4, 5], 478.5, 10.4, [-0.3, 0.3], [-0.3, -0.2, -0.1, 0.0, 0.1, 0.2, 0.3], ".1f",
          "NAT index-1 - NAT index-2", -96, "(c)", -187, 92, LC)
d = panel("D", [1, 2, 3, 4, 5], 10, 10.4, [0.5, 2.5], [0.5, 0.75, 1.0, 1.25, 1.5, 1.75, 2.0, 2.25, 2.5], ".2f",
          f"NAT index-3 (811 {cm}/ 826 {cm})", -91, "(d)", -206, 92, LD, w=783, off=-3)
e = panel("E", [1, 2, 3, 4, 5], 478.5, 9.5, [-20, 20], [-20, -15, -10, -5, 0, 5, 10, 15, 20], "d",
          f"BT diff. (833 {cm} - 949 {cm})", -86, "(e)", -187, 85, LE)
f1 = fpanel(WN1, [R1A, R1B, R1C], [B1A, B1B, B1C], SHADE1, [785, 840], [790, 800, 810, 820, 830, 840], 597, True)
f2 = fpanel(WN2, [R2A, R2B, R2C], [B2A, B2B, B2C], SHADE2, [940, 961.1], [940, 950, 960], 215, False)

IND = dict(color="independent", shape="independent")
row1 = alt.hconcat(a, b, spacing=268, bounds="flush").resolve_scale(**IND)
row2 = alt.hconcat(c, d, spacing=268, bounds="flush").resolve_scale(**IND)
row3 = alt.hconcat(e, alt.hconcat(f1, f2, spacing=59, bounds="flush").resolve_scale(color="independent"),
                   spacing=199, bounds="flush").resolve_scale(**IND)
lower = alt.vconcat(row2, row3, spacing=705.5, bounds="flush").resolve_scale(**IND)
chart = alt.vconcat(row1, lower, spacing=696, bounds="flush").resolve_scale(**IND)
chart = chart.properties(padding={"left": 0, "top": 0, "right": -1, "bottom": 0}, background="white").configure_view(
    stroke="black", strokeWidth=1.5).configure_axis(
    labelFont=FONT, titleFont=FONT, labelFontSize=TICK, titleFontSize=TICK, titleFontWeight="normal",
    labelColor="black", titleColor="black", tickColor="black", domainColor="black",
    tickSize=6.3, tickWidth=1.5, domainWidth=1.5, labelPadding=3, grid=False)
chart.save("out.html", embed_options={"renderer": "svg", "actions": False})
